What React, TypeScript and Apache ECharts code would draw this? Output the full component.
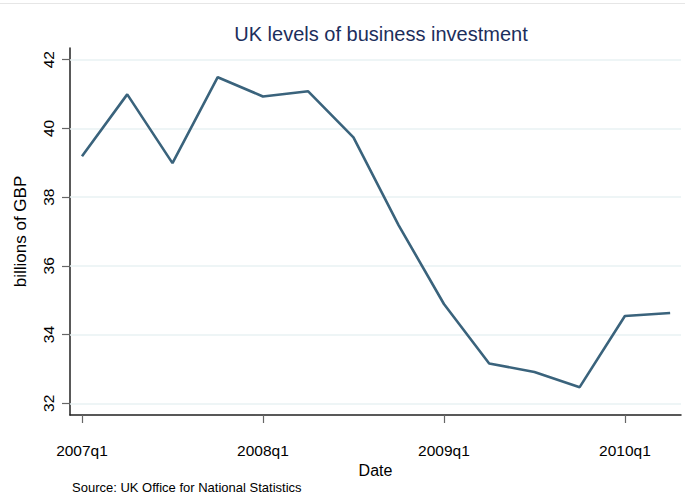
import React, { useEffect, useRef } from "react";
import * as echarts from "echarts";

const quarters = [
  "2007q1", "2007q2", "2007q3", "2007q4",
  "2008q1", "2008q2", "2008q3", "2008q4",
  "2009q1", "2009q2", "2009q3", "2009q4",
  "2010q1", "2010q2",
];
const investment = [
  39.19, 40.99, 38.99, 41.49,
  40.93, 41.08, 39.74, 37.18,
  34.89, 33.16, 32.91, 32.47,
  34.54, 34.63,
];
const yTicks = [32, 34, 36, 38, 40, 42];
const xTickIndices = [0, 4, 8, 12];

const title = "UK levels of business investment";
const yName = "billions of GBP";
const xName = "Date";
const source = "Source: UK Office for National Statistics";

export default function App() {
  const ref = useRef<HTMLDivElement>(null);
  useEffect(() => {
    if (!ref.current) return;
    const chart = echarts.init(ref.current, null, { renderer: "svg" });
    const font = "'Liberation Sans', Arial, sans-serif";
    chart.setOption({
      animation: false,
      backgroundColor: "#ffffff",
      textStyle: { fontFamily: font },
      title: {
        text: title,
        left: 376,
        textAlign: "center",
        top: 19,
        textStyle: { fontFamily: font, fontSize: 20, fontWeight: "normal", color: "#1c2e5c" },
      },
      graphic: [
        {
          type: "line",
          shape: { x1: 0, y1: 3.5, x2: 685, y2: 3.5 },
          style: { stroke: "#e6e6e6", lineWidth: 1 },
        },
        {
          type: "text",
          left: 72,
          top: 481,
          style: { text: source, fontFamily: font, fontSize: 13, fill: "#000" },
        },
      ],
      grid: { left: 70, right: 4, top: 48, bottom: 85 },
      xAxis: {
        type: "value",
        min: -0.265,
        max: 13.24,
        name: xName,
        nameLocation: "middle",
        nameGap: 40,
        nameTextStyle: { fontFamily: font, fontSize: 16, color: "#000" },
        axisLine: { show: true, onZero: false, lineStyle: { color: "#222", width: 1.5 } },
        axisTick: { show: true, customValues: xTickIndices, length: 8, lineStyle: { color: "#666", width: 1.2 } },
        axisLabel: {
          customValues: xTickIndices,
          formatter: (v: number) => quarters[Math.round(v)] ?? "",
          margin: 27,
          fontFamily: font,
          fontSize: 15.5,
          color: "#000",
        },
        splitLine: { show: false },
      },
      yAxis: {
        type: "value",
        min: 31.66,
        max: 42.34,
        name: yName,
        nameLocation: "middle",
        nameGap: 41,
        nameRotate: 90,
        nameTextStyle: { fontFamily: font, fontSize: 17, color: "#000" },
        axisLine: { show: true, onZero: false, lineStyle: { color: "#222", width: 1.5 } },
        axisTick: { show: true, customValues: yTicks, length: 8, lineStyle: { color: "#666", width: 1.2 } },
        axisLabel: {
          customValues: yTicks,
          rotate: 90,
          margin: 14,
          fontFamily: font,
          fontSize: 15.5,
          color: "#000",
        },
        splitLine: { show: false },
      },
      series: [
        {
          type: "line",
          data: investment.map((v, i) => [i, v]),
          showSymbol: false,
          symbol: "none",
          lineStyle: { color: "#3a637c", width: 2.6 },
          z: 3,
          markLine: {
            silent: true,
            symbol: ["none", "none"],
            label: { show: false },
            lineStyle: { color: "#e9f2f3", type: "solid", width: 1.5 },
            z: 1,
            data: yTicks.map((t) => ({ yAxis: t })),
          },
        },
      ],
    });
    return () => chart.dispose();
  }, []);
  return (
    <div
      ref={ref}
      style={{ position: "fixed", left: 0, top: 0, width: 685, height: 500 }}
    />
  );
}
